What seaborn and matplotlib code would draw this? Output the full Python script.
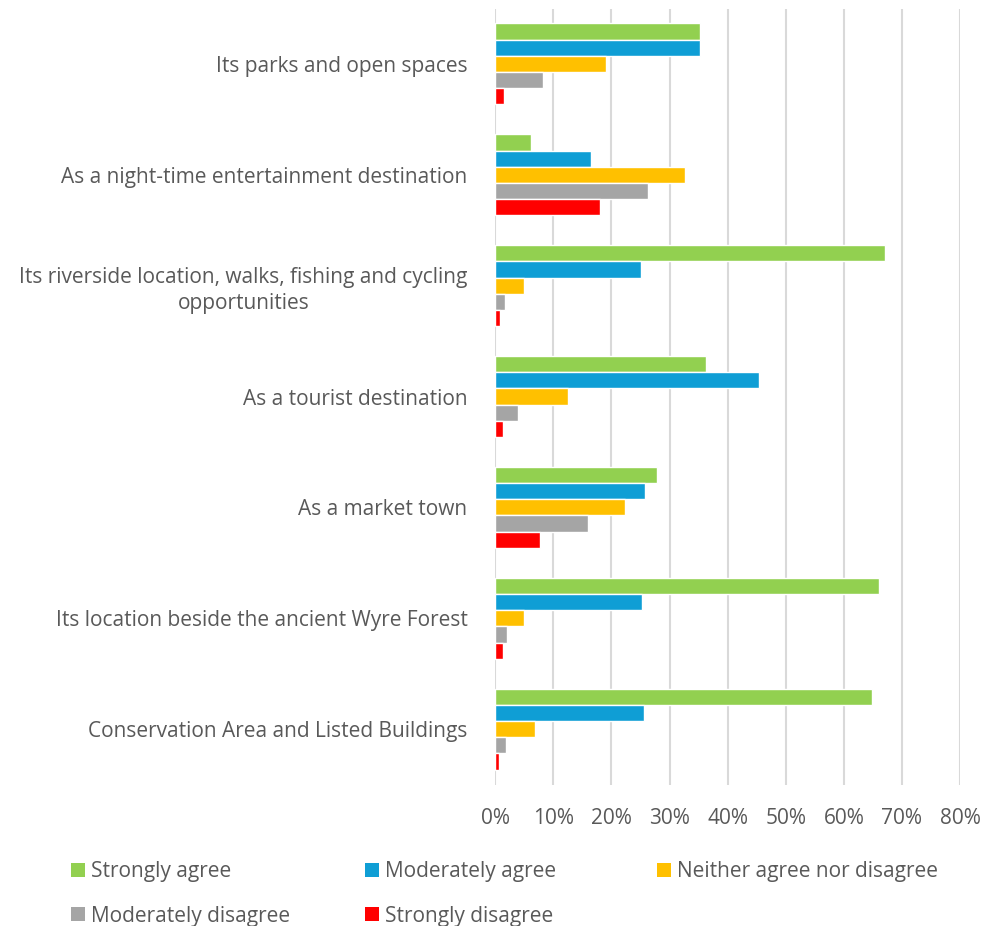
import numpy as np
import pandas as pd
import matplotlib
matplotlib.use("Agg")
import matplotlib.pyplot as plt
import seaborn as sns
from matplotlib.patches import Patch

# survey categories, top to bottom
categories = [
    "Its parks and open spaces",
    "As a night-time entertainment destination",
    "Its riverside location, walks, fishing and cycling\nopportunities",
    "As a tourist destination",
    "As a market town",
    "Its location beside the ancient Wyre Forest",
    "Conservation Area and Listed Buildings",
]
responses = ["Strongly agree", "Moderately agree", "Neither agree nor disagree",
             "Moderately disagree", "Strongly disagree"]

# percentages
strongly_agree = [35.3, 6.1, 67.1, 36.2, 27.9, 66.0, 64.8]
moderately_agree = [35.3, 16.5, 25.0, 45.4, 25.8, 25.2, 25.6]
neither = [19.1, 32.7, 5.0, 12.5, 22.4, 5.0, 6.8]
moderately_disagree = [8.3, 26.3, 1.7, 4.0, 15.9, 2.1, 1.9]
strongly_disagree = [1.5, 18.1, 0.9, 1.4, 7.7, 1.3, 0.6]

colors = ["#92D050", "#0F9ED5", "#FFC000", "#A5A5A5", "#FF0000"]

series = [strongly_agree, moderately_agree, neither, moderately_disagree, strongly_disagree]
rows = []
for resp, vals in zip(responses, series):
    for cat, v in zip(categories, vals):
        rows.append({"category": cat, "response": resp, "value": v / 100})
df = pd.DataFrame(rows)

sns.set_theme(style="white")
plt.rcParams["font.family"] = ["Open Sans", "DejaVu Sans"]
text_color = "#595959"
fs = 15

fig = plt.figure(figsize=(9.84, 9.26), dpi=100)
ax = fig.add_axes([0.5033, 0.1528, 0.9757 - 0.5033, 0.9908 - 0.1528])

sns.barplot(data=df, y="category", x="value", hue="response", order=categories,
            hue_order=responses, palette=colors, orient="h", width=0.73, gap=0,
            saturation=1, legend=False, ax=ax)

ax.set_xlim(0, 0.8)
ax.set_xticks(np.arange(0, 0.81, 0.1))
ax.set_xticklabels([f"{int(round(t * 100))}%" for t in np.arange(0, 0.81, 0.1)])
ax.xaxis.grid(True, color="#D9D9D9", linewidth=1.5)
ax.set_axisbelow(True)
for s in ax.spines.values():
    s.set_visible(False)
ax.set_xlabel("")
ax.set_ylabel("")
ax.tick_params(axis="x", length=0, pad=17, labelsize=fs, colors=text_color)
ax.tick_params(axis="y", length=0, pad=20, labelsize=fs, colors=text_color)
for lbl in ax.get_yticklabels():
    lbl.set_multialignment("center")
    lbl.set_linespacing(1.3)

# legend: one legend per column so the columns sit at fixed positions
handles = [Patch(facecolor=c, edgecolor="none") for c in colors]
columns = [([0, 3], 0.072), ([1, 4], 0.371), ([2], 0.668)]
for idx, x0 in columns:
    leg = fig.legend([handles[i] for i in idx], [responses[i] for i in idx],
                     loc="upper left", bbox_to_anchor=(x0, 0.070),
                     frameon=False, fontsize=fs, handlelength=0.66, handleheight=0.66,
                     handletextpad=0.3, labelspacing=1.12,
                     borderaxespad=0, borderpad=0)
    for t in leg.get_texts():
        t.set_color(text_color)

fig.savefig("out.png", dpi=100)
